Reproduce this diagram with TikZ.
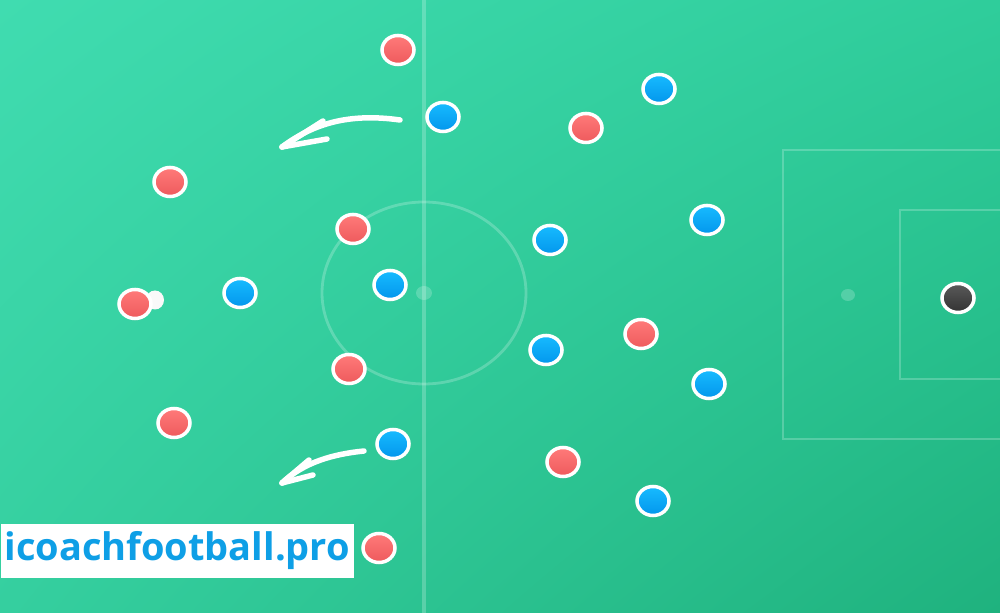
\documentclass[tikz,border=0pt]{standalone}
\usepackage{fontspec}
\setmainfont{Open Sans}
\usetikzlibrary{shapes.geometric,shadows,shadings,calc,positioning}
\definecolor{pitchTL}{HTML}{40DCB0}
\definecolor{pitchTR}{HTML}{2FCD9B}
\definecolor{pitchBL}{HTML}{35CF9F}
\definecolor{pitchBR}{HTML}{1FB27E}
\definecolor{redtop}{HTML}{FF7A7A}
\definecolor{redbot}{HTML}{EE5A5C}
\definecolor{bluetop}{HTML}{17BBFF}
\definecolor{bluebot}{HTML}{0396EC}
\definecolor{gktop}{HTML}{5A5A5A}
\definecolor{gkbot}{HTML}{333333}
\definecolor{logoblue}{HTML}{0E9FE6}
\tikzset{
    x=0.01cm, y=-0.01cm,
    markline/.style={draw=white, draw opacity=0.22, line width=0.028cm},
    player/.style={ellipse, draw=white, line width=0.035cm, inner sep=0pt,
        minimum width=0.32cm, minimum height=0.29cm,
        drop shadow={opacity=0.18, shadow xshift=0pt, shadow yshift=-0.02cm}},
    redplayer/.style={player, top color=redtop, bottom color=redbot},
    blueplayer/.style={player, top color=bluetop, bottom color=bluebot},
    keeper/.style={player, top color=gktop, bottom color=gkbot},
    ballnode/.style={ellipse, fill=white!95!gray, inner sep=0pt,
        minimum width=0.18cm, minimum height=0.19cm},
    brush/.style={draw=white, line width=0.055cm, line cap=round, line join=round},
    brand/.style={fill=white, text=logoblue, inner xsep=0.04cm, inner ysep=0pt,
        minimum height=0.54cm, font=\bfseries\fontsize{10.8}{12}\selectfont}
}

\begin{document}
\begin{tikzpicture}
    \useasboundingbox (0,0) rectangle (1000,613);
    % pitch
    \shade[upper left=pitchTL, upper right=pitchTR, lower left=pitchBL, lower right=pitchBR]
        (0,0) rectangle (1000,613);
    \draw[markline, line width=0.035cm] (424,0) -- (424,613);
    \draw[markline] (424,293) ellipse [x radius=102, y radius=91];
    \fill[white, opacity=0.2] (424,293) ellipse [x radius=8, y radius=7];
    \draw[markline] (1002,150) -- (783,150) -- (783,439) -- (1002,439);
    \draw[markline] (1002,210) -- (900,210) -- (900,379) -- (1002,379);
    \fill[white, opacity=0.2] (848,295) ellipse [x radius=7, y radius=6];

    % runs
    \coordinate (run1s) at (400,120);
    \coordinate (run1e) at (282,147);
    \draw[brush] (run1s) .. controls (350,113) and (314,123) .. (run1e);
    \draw[brush] (run1e) -- ++(41,-26);
    \draw[brush] (run1e) -- ++(45,-8);
    \coordinate (run2s) at (364,451);
    \coordinate (run2e) at (282,483);
    \draw[brush] (run2s) .. controls (334,454) and (304,462) .. (run2e);
    \draw[brush] (run2e) -- ++(27,-23);
    \draw[brush] (run2e) -- ++(31,-8);

    % logo
    \node[brand, anchor=west] (logo) at (0,551) {icoachfootball.pro};

    % ball and keeper
    \node[ballnode] (ball) at (155,300) {};
    \node[keeper] (gk) at (958,298) {};

    % red team
    \node[redplayer] (r1) at (398,50) {};
    \node[redplayer] (r2) at (586,128) {};
    \node[redplayer] (r3) at (170,182) {};
    \node[redplayer] (r4) at (353,229) {};
    \node[redplayer] (r5) at (135,304) {};
    \node[redplayer] (r6) at (349,369) {};
    \node[redplayer] (r7) at (641,334) {};
    \node[redplayer] (r8) at (174,423) {};
    \node[redplayer] (r9) at (563,462) {};
    \node[redplayer] (r10) at (379,548) {};

    % blue team
    \node[blueplayer] (b1) at (659,89) {};
    \node[blueplayer] (b2) at (443,117) {};
    \node[blueplayer] (b3) at (707,220) {};
    \node[blueplayer] (b4) at (550,240) {};
    \node[blueplayer] (b5) at (240,293) {};
    \node[blueplayer] (b6) at (390,285) {};
    \node[blueplayer] (b7) at (546,350) {};
    \node[blueplayer] (b8) at (709,384) {};
    \node[blueplayer] (b9) at (393,444) {};
    \node[blueplayer] (b10) at (653,501) {};
\end{tikzpicture}
\end{document}
